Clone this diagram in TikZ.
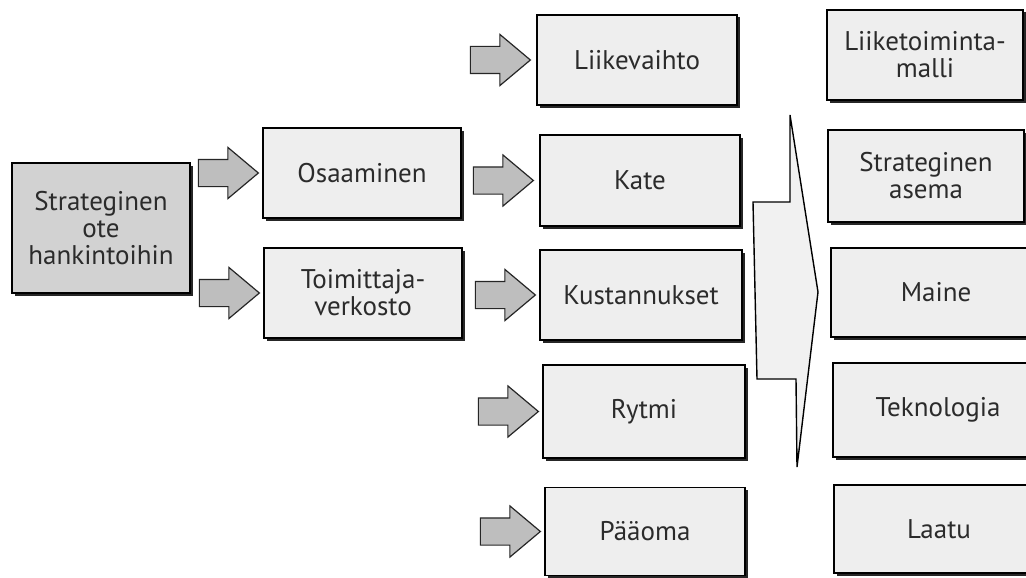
\documentclass[tikz,border=0pt]{standalone}
\usepackage{fontspec}
\setmainfont{PT Sans}
\usetikzlibrary{shapes.arrows,shadows}
\definecolor{ink}{HTML}{2B2B2B}
\definecolor{boxfill}{HTML}{EEEEEE}
\definecolor{keyfill}{HTML}{D2D2D2}
\definecolor{arrowfill}{HTML}{BEBEBE}
\definecolor{bigfill}{HTML}{F1F1F1}
\tikzset{
  box/.style={draw=black, line width=1.4pt, fill=boxfill, align=center,
    text=ink, inner sep=2pt,
    font=\fontsize{27}{27}\selectfont,
    drop shadow={shadow xshift=2.5pt, shadow yshift=-2.5pt, fill=black!85, opacity=1}},
  keybox/.style={box, fill=keyfill},
  blockarrow/.style={single arrow, draw=black!85, line width=1.2pt, fill=arrowfill,
    minimum height=60pt, inner xsep=0pt, inner ysep=13pt,
    single arrow head extend=12pt, single arrow tip angle=80, anchor=tip}
}
\begin{document}
\begin{tikzpicture}[x=1pt,y=-1pt]
\useasboundingbox (0,0) rectangle (1026,578);
\fill[white] (0,0) rectangle (1026,578);

% starting point
\node[keybox, minimum width=178pt, minimum height=130pt] (ote) at (101,228)
  {Strateginen\\ote\\hankintoihin};

% second column
\node[box, minimum width=198pt, minimum height=90pt] (osa) at (362,173) {Osaaminen};
\node[box, minimum width=198pt, minimum height=90pt] (toim) at (363,293) {Toimittaja-\\verkosto};

% third column
\node[box, minimum width=200pt, minimum height=90pt] (liik) at (637,60) {Liikevaihto};
\node[box, minimum width=200pt, minimum height=91pt] (kate) at (640,180.5) {Kate};
\node[box, minimum width=202pt, minimum height=90pt] (kust) at (641,295) {Kustannukset};
\node[box, minimum width=202pt, minimum height=93pt] (rytmi) at (644,411.5) {Rytmi};
\node[box, minimum width=200pt, minimum height=88pt] (paa) at (645,531.5) {Pääoma};

% fourth column
\node[box, minimum width=196pt, minimum height=90pt] (malli) at (925,55) {Liiketoiminta-\\malli};
\node[box, minimum width=196pt, minimum height=92pt] (asema) at (926,176) {Strateginen\\asema};
\node[box, minimum width=210pt, minimum height=89pt] (maine) at (936,292.5) {Maine};
\node[box, minimum width=210pt, minimum height=94pt] (tekno) at (938,410) {Teknologia};
\node[box, minimum width=210pt, minimum height=88pt] (laatu) at (939,529) {Laatu};

% small block arrows
\node[blockarrow] (a1) at ([xshift=-3pt]osa.west) {};
\node[blockarrow] (a2) at ([xshift=-3pt]toim.west) {};
\node[blockarrow] (m1) at ([xshift=-5pt]liik.west) {};
\node[blockarrow] (m2) at ([xshift=-5pt]kate.west) {};
\node[blockarrow] (m3) at ([xshift=-3pt]kust.west) {};
\node[blockarrow] (m4) at ([xshift=-3pt]rytmi.west) {};
\node[blockarrow] (m5) at ([xshift=-3pt]paa.west) {};

% large arrow between the third and fourth column
\draw[line width=1.4pt, fill=bigfill, line join=miter]
  (790,115) -- (818,292) -- (797,467) -- (796,379) -- (757,379)
  -- (753,202) -- (790,202) -- cycle;
\end{tikzpicture}
\end{document}
